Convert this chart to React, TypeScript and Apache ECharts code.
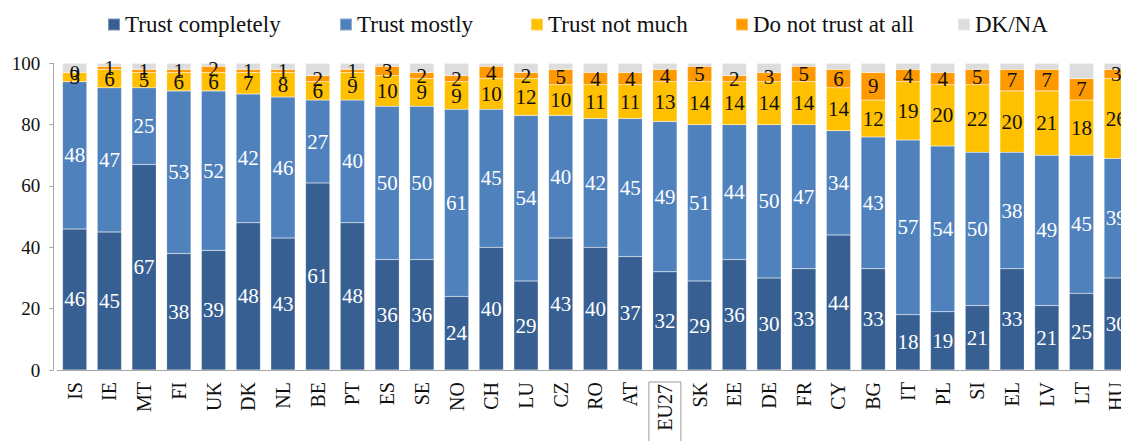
import React, { useEffect, useRef } from "react";
import * as echarts from "echarts";

const countries = ["IS","IE","MT","FI","UK","DK","NL","BE","PT","ES","SE","NO","CH","LU","CZ","RO","AT","EU27","SK","EE","DE","FR","CY","BG","IT","PL","SI","EL","LV","LT","HU"];
const trustCompletely = [46,45,67,38,39,48,43,61,48,36,36,24,40,29,43,40,37,32,29,36,30,33,44,33,18,19,21,33,21,25,30];
const trustMostly = [48,47,25,53,52,42,46,27,40,50,50,61,45,54,40,42,45,49,51,44,50,47,34,43,57,54,50,38,49,45,39];
const trustNotMuch = [3,6,5,6,6,7,8,6,9,10,9,9,10,12,10,11,11,13,14,14,14,14,14,12,19,20,22,20,21,18,26];
const notTrustAtAll = [0,1,1,1,2,1,1,2,1,3,2,2,4,2,5,4,4,4,5,2,3,5,6,9,4,4,5,7,7,7,3];
const dkna = [3,1,2,2,1,2,2,4,2,1,3,4,1,3,2,3,3,2,1,4,3,1,2,3,2,3,2,2,2,5,2];
const yTicks = [0, 20, 40, 60, 80, 100];

const seriesNames = ["Trust completely", "Trust mostly", "Trust not much", "Do not trust at all", "DK/NA"];
const seriesColors = ["#375F92", "#4F81BD", "#FFC000", "#FF9900", "#DDDDDD"];
const labelColors = ["#ffffff", "#ffffff", "#111111", "#111111", null];
const legendLefts = [107, 339, 530, 735, 957];

const FONT = "Liberation Serif";

export default function App() {
  const ref = useRef<HTMLDivElement>(null);
  useEffect(() => {
    if (!ref.current) return;
    const chart = echarts.init(ref.current, null, { renderer: "svg" });
    const datasets = [trustCompletely, trustMostly, trustNotMuch, notTrustAtAll, dkna];
    const option: any = {
      animation: false,
      textStyle: { fontFamily: FONT },
      legend: seriesNames.map((n, i) => ({
        data: [n],
        left: legendLefts[i],
        top: 12,
        padding: 0,
        icon: "rect",
        itemWidth: 12,
        itemHeight: 12,
        selectedMode: false,
        textStyle: { fontFamily: FONT, fontSize: 23, color: "#111", lineHeight: 25 },
      })),
      grid: { left: 57.3, top: 63.3, width: 1076.3, height: 306.7, outerBoundsMode: "none", containLabel: false },
      xAxis: {
        type: "category",
        data: countries,
        axisLine: { lineStyle: { color: "#A6A6A6", width: 1 } },
        axisTick: { length: 5, lineStyle: { color: "#A6A6A6" } },
        axisLabel: {
          interval: 0,
          rotate: 90,
          margin: 12,
          fontFamily: FONT,
          fontSize: 20,
          color: "#111",
          formatter: (v: string) => (v === "EU27" ? "{box|" + v + "}" : v),
          rich: {
            box: {
              fontFamily: FONT,
              fontSize: 20,
              color: "#111",
              borderColor: "#9A9A9A",
              borderWidth: 1,
              padding: [6, 2, 6, 20],
            },
          },
        },
      },
      yAxis: {
        type: "value",
        min: yTicks[0],
        max: yTicks[yTicks.length - 1],
        interval: 20,
        offset: 4,
        splitLine: { show: false },
        axisLine: { show: true, lineStyle: { color: "#A6A6A6", width: 1 } },
        axisTick: { show: true, length: 4, lineStyle: { color: "#A6A6A6" } },
        axisLabel: { margin: 13, fontFamily: FONT, fontSize: 19, color: "#111" },
      },
      series: seriesNames.map((n, i) => ({
        name: n,
        type: "bar",
        stack: "total",
        barWidth: "70%",
        data: datasets[i],
        itemStyle: { color: seriesColors[i], borderColor: "rgba(255,255,255,0.35)", borderWidth: 0.5 },
        label: labelColors[i]
          ? {
              show: true,
              position: "inside",
              fontFamily: FONT,
              fontSize: 21,
              color: labelColors[i],
              textBorderWidth: 0,
              textShadowBlur: 0,
            }
          : { show: false },
        emphasis: { disabled: true },
      })),
    };
    chart.setOption(option);
    return () => chart.dispose();
  }, []);
  return (
    <div
      ref={ref}
      style={{ position: "fixed", left: 0, top: 0, width: 1121, height: 441, background: "#fff" }}
    />
  );
}
